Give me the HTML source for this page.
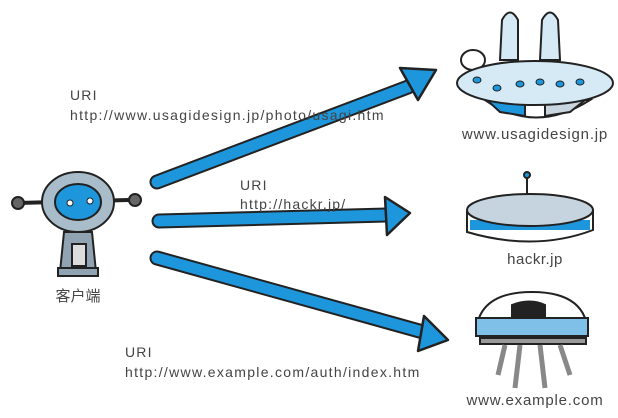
<!DOCTYPE html>
<html><head><meta charset="utf-8"><style>
body{margin:0;background:#fff;}
svg{display:block}
text{font-family:"Liberation Sans","Noto Sans CJK SC",sans-serif;fill:#444;}
</style></head><body>
<svg width="618" height="418" viewBox="0 0 618 418" xmlns="http://www.w3.org/2000/svg">
<g stroke-linecap="round" stroke-linejoin="round">
 <line x1="157" y1="182" x2="408" y2="87" stroke="#222" stroke-width="15"/>
 <line x1="157" y1="182" x2="408" y2="87" stroke="#1e96dc" stroke-width="11"/>
 <polygon points="400,68 436,70 418,100" fill="#1e96dc" stroke="#222" stroke-width="2.5"/>
 <line x1="159" y1="221" x2="388" y2="215" stroke="#222" stroke-width="15"/>
 <line x1="159" y1="221" x2="388" y2="215" stroke="#1e96dc" stroke-width="11"/>
 <polygon points="385,197 410,213 387,235" fill="#1e96dc" stroke="#222" stroke-width="2.5"/>
 <line x1="157" y1="258" x2="423" y2="332" stroke="#222" stroke-width="15"/>
 <line x1="157" y1="258" x2="423" y2="332" stroke="#1e96dc" stroke-width="11"/>
 <polygon points="424,316 448,340 418,351" fill="#1e96dc" stroke="#222" stroke-width="2.5"/>
</g>
<text x="70" y="100" font-size="14" letter-spacing="1.2">URI</text>
<text x="70" y="120" font-size="14" letter-spacing="1.3">http://www.usagidesign.jp/photo/usagi.htm</text>
<text x="240" y="190" font-size="14" letter-spacing="1.2">URI</text>
<text x="240" y="209" font-size="14" letter-spacing="1.2">http://hackr.jp/</text>
<text x="125" y="357" font-size="14" letter-spacing="1.2">URI</text>
<text x="125" y="377" font-size="14" letter-spacing="1.3">http://www.example.com/auth/index.htm</text>
<text x="535" y="139" font-size="15" letter-spacing="0.8" text-anchor="middle">www.usagidesign.jp</text>
<text x="535" y="264" font-size="15" letter-spacing="0.5" text-anchor="middle">hackr.jp</text>
<text x="535" y="405" font-size="15" letter-spacing="0.8" text-anchor="middle">www.example.com</text>
<text x="78" y="301" font-size="15" text-anchor="middle">客户端</text>
<!-- robot -->
<g stroke="#222" stroke-width="2">
 <line x1="18" y1="203" x2="130" y2="200" stroke-width="4"/>
 <circle cx="18" cy="203" r="6" fill="#666"/><circle cx="135" cy="200" r="6" fill="#666"/>
 <path d="M64,232 L92,232 L96,272 L60,272 Z" fill="#8fa3b3"/>
 <rect x="72" y="244" width="14" height="22" fill="#ddd"/>
 <rect x="58" y="268" width="40" height="8" fill="#8fa3b3"/>
 <ellipse cx="78" cy="202" rx="36" ry="30" fill="#a9bcc9"/>
 <ellipse cx="78" cy="202" rx="23" ry="18" fill="#1e96dc"/>
</g>
<circle cx="70" cy="203" r="3" fill="#fff" stroke="#222"/><circle cx="90" cy="201" r="3" fill="#fff" stroke="#222"/>
<!-- ufo 1 -->
<g stroke="#222" stroke-width="2">
 <path d="M500,60 L502,20 Q510,5 518,20 L518,60 Z" fill="#d6eaf6"/>
 <path d="M540,60 L542,20 Q550,5 558,20 L560,60 Z" fill="#d6eaf6"/>
 <ellipse cx="473" cy="60" rx="12" ry="10" fill="#fff"/>
 <path d="M485,100 Q535,135 590,100 Z" fill="#fff"/>
 <path d="M487,100 L500,112 L525,116 L525,100 Z" fill="#1e96dc"/>
 <path d="M545,100 L545,116 L570,112 L585,100 Z" fill="#c9d6df"/>
 <ellipse cx="535" cy="83" rx="78" ry="22" fill="#d6eaf6"/>
</g>
<g fill="#1e96dc" stroke="#222"><ellipse cx="477" cy="80" rx="4" ry="3"/><ellipse cx="497" cy="88" rx="4" ry="3"/><ellipse cx="520" cy="84" rx="4" ry="3"/><ellipse cx="540" cy="82" rx="4" ry="3"/><ellipse cx="560" cy="84" rx="4" ry="3"/><ellipse cx="580" cy="82" rx="4" ry="3"/></g>
<!-- ufo 2 -->
<g stroke="#222" stroke-width="2">
 <line x1="527" y1="175" x2="527" y2="198"/><circle cx="527" cy="175" r="3" fill="#1e96dc"/>
 <path d="M467,212 L467,232 Q535,252 593,230 L593,210 Z" fill="#fff"/>
 <rect x="470" y="220" width="120" height="10" fill="#1e96dc" stroke="none"/>
 <ellipse cx="530" cy="210" rx="63" ry="16" fill="#c5d4de"/>
</g>
<!-- ufo 3 -->
<g stroke="#222" stroke-width="2">
 <path d="M476,336 Q476,292 532,292 Q588,292 588,336 Z" fill="#fff"/>
 <rect x="476" y="318" width="112" height="18" fill="#7fc0e8"/>
 <path d="M512,318 L512,305 Q530,298 545,305 L545,318 Z" fill="#222"/>
 <rect x="480" y="338" width="106" height="6" fill="#999"/>
 <path d="M505,345 L498,375 M520,345 L515,388 M540,345 L545,388 M560,345 L570,375" stroke="#888" stroke-width="5" fill="none"/>
</g>
</svg>
</body></html>
